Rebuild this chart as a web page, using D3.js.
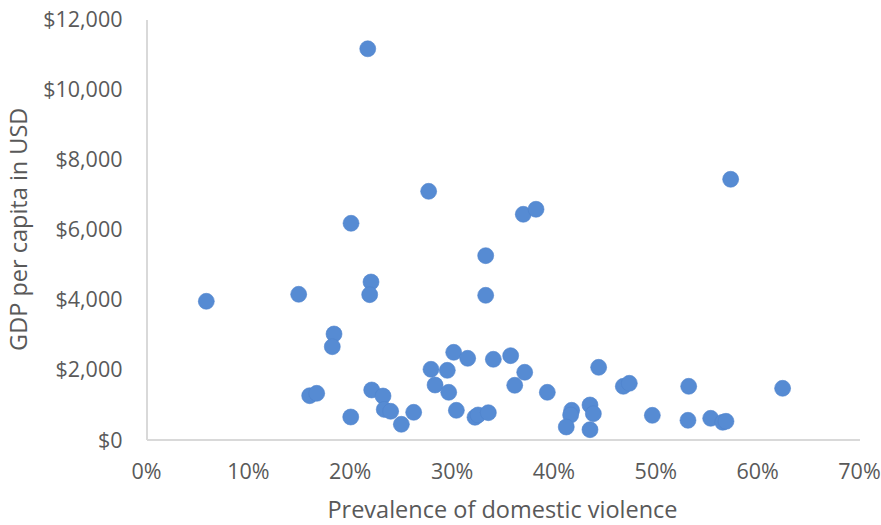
<!DOCTYPE html>
<html>
<head>
<meta charset="utf-8">
<script src="https://cdn.jsdelivr.net/npm/d3@7"></script>
<style>
  html, body { margin: 0; padding: 0; background: #fff; }
  svg { display: block; }
  text { font-family: "Open Sans", "Noto Sans", sans-serif; fill: #595959; }
</style>
</head>
<body>
<svg id="chart" width="881" height="525"></svg>
<script>
// Prevalence of domestic violence (fraction)
const prevalence = [
  0.2177, 0.2775, 0.2013, 0.3704, 0.3829, 0.5740, 0.3335, 0.0592, 0.1499, 0.2209,
  0.2196, 0.3335, 0.1846, 0.1829, 0.3021, 0.3158, 0.3410, 0.2798, 0.2958, 0.2838,
  0.2972, 0.1607, 0.1676, 0.2216, 0.2327, 0.2339, 0.2402, 0.2010, 0.2507, 0.2628,
  0.3047, 0.3230, 0.3260, 0.3361, 0.3580, 0.3718, 0.3620, 0.3940, 0.4444, 0.4686,
  0.4745, 0.5328, 0.6250, 0.4179, 0.4169, 0.4126, 0.4359, 0.4392, 0.4359, 0.4971,
  0.5321, 0.5544, 0.5662, 0.5694
];
// GDP per capita in USD
const gdp = [
  11150, 7083, 6170, 6427, 6570, 7426, 5246, 3944, 4144, 4495,
  4133, 4115, 3011, 2648, 2488, 2317, 2289, 2003, 1974, 1555,
  1347, 1250, 1318, 1413, 1241, 859, 805, 642, 434, 776,
  833, 634, 700, 765, 2392, 1918, 1547, 1347, 2060, 1518,
  1604, 1518, 1461, 833, 699, 357, 985, 736, 280, 690,
  548, 605, 491, 519
];
const xTicks = [0, 0.1, 0.2, 0.3, 0.4, 0.5, 0.6, 0.7];
const yTicks = [0, 2000, 4000, 6000, 8000, 10000, 12000];
const xTitle = "Prevalence of domestic violence";
const yTitle = "GDP per capita in USD";

const svg = d3.select("#chart");
const mLeft = 146, mRight = 859, mTop = 19, mBottom = 439.5;

const x = d3.scaleLinear().domain([0, 0.7]).range([mLeft, mRight]);
const y = d3.scaleLinear().domain([0, 12000]).range([mBottom, mTop]);

// Axes
const xAxis = d3.axisBottom(x).tickValues(xTicks).tickFormat(d3.format(".0%")).tickSize(0).tickPadding(0);
const yAxis = d3.axisLeft(y).tickValues(yTicks).tickFormat(d => "$" + d3.format(",")(d)).tickSize(0);

const gx = svg.append("g").attr("transform", `translate(0,${mBottom})`).call(xAxis);
gx.select(".domain").attr("stroke", "#d9d9d9").attr("stroke-width", 2);
gx.selectAll(".tick text")
  .attr("y", 39).attr("dy", 0)
  .attr("font-size", 21.5).attr("fill", "#595959")
  .style("font-family", '"Open Sans", sans-serif');

const gy = svg.append("g").attr("transform", `translate(${mLeft},0)`).call(yAxis);
gy.select(".domain").attr("stroke", "#d9d9d9").attr("stroke-width", 2);
gy.selectAll(".tick text")
  .attr("x", 122.5 - mLeft).attr("dy", "0.35em")
  .attr("font-size", 21.5).attr("fill", "#595959")
  .style("font-family", '"Open Sans", sans-serif');
svg.selectAll(".domain").attr("shape-rendering", "crispEdges");

// Points
svg.append("g").selectAll("circle")
  .data(prevalence.map((p, i) => ({ p, g: gdp[i] })))
  .join("circle")
  .attr("cx", d => x(d.p))
  .attr("cy", d => y(d.g))
  .attr("r", 8)
  .attr("fill", "#568bd3")
  .attr("stroke", "#4f83cc")
  .attr("stroke-width", 0.6);

// Axis titles
svg.append("text")
  .attr("x", (mLeft + mRight) / 2).attr("y", 518)
  .attr("text-anchor", "middle")
  .attr("font-size", 23.5)
  .text(xTitle);

svg.append("text")
  .attr("transform", `translate(27,${(mTop + mBottom) / 2}) rotate(-90)`)
  .attr("text-anchor", "middle")
  .attr("font-size", 23.5)
  .text(yTitle);
</script>
</body>
</html>
